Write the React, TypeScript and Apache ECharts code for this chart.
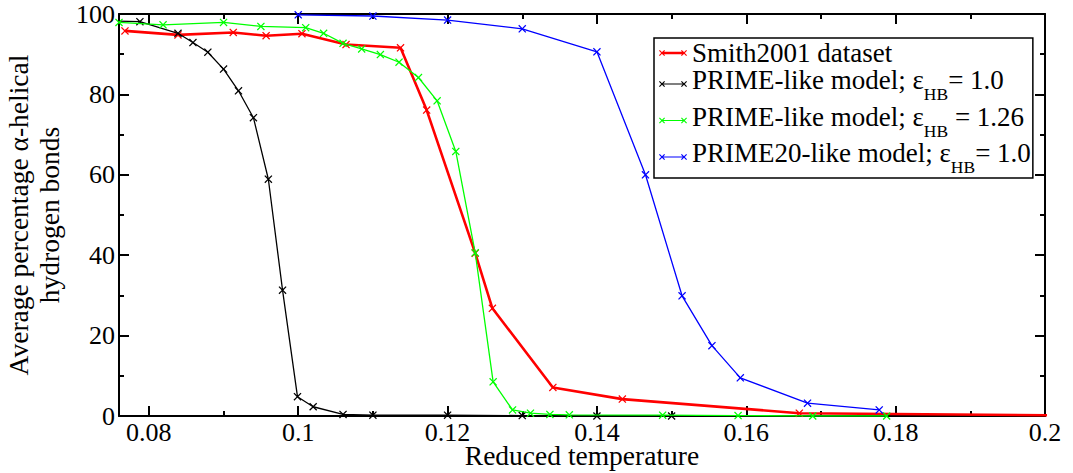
import React, { useEffect, useRef } from "react";
import * as echarts from "echarts";

// ---- data ----
const xMajorTicks = [0.08, 0.1, 0.12, 0.14, 0.16, 0.18, 0.2];
const xMinorTicks = [0.09, 0.11, 0.13, 0.15, 0.17, 0.19];

const seriesNames = [
  "Smith2001 dataset",
  "PRIME-like model; εHB= 1.0",
  "PRIME-like model; εHB = 1.26",
  "PRIME20-like model; εHB= 1.0",
];

const smithT = [0.0768, 0.0839, 0.0913, 0.0957, 0.1005, 0.1064, 0.1137, 0.1172, 0.1237, 0.126, 0.1341, 0.1434, 0.1671, 0.21];
const smithH = [95.8, 94.8, 95.4, 94.6, 95.1, 92.4, 91.6, 76.1, 40.5, 26.8, 7.1, 4.2, 0.7, 0.05];

const primeT = [0.074, 0.0788, 0.0839, 0.0859, 0.0879, 0.09, 0.092, 0.094, 0.096, 0.0979, 0.0999, 0.102, 0.106, 0.11, 0.12, 0.13, 0.14, 0.15];
const primeH = [98.3, 98.1, 95.2, 92.9, 90.5, 86.3, 80.9, 74.2, 58.9, 31.3, 4.8, 2.3, 0.4, 0.2, 0.2, 0.1, 0, 0];

const prime126T = [0.076, 0.0819, 0.09, 0.095, 0.101, 0.1034, 0.106, 0.1085, 0.111, 0.1135, 0.1161, 0.1186, 0.1211, 0.1237, 0.1261, 0.1287, 0.1311, 0.1337, 0.1363, 0.1488, 0.1589, 0.1689, 0.1788];
const prime126H = [97.9, 97.3, 97.9, 96.9, 96.6, 95.2, 92.7, 91.3, 89.9, 88.0, 84.2, 78.4, 65.8, 40.6, 8.5, 1.5, 0.7, 0.4, 0.3, 0.2, 0.1, 0, 0];

const prime20T = [0.1, 0.11, 0.12, 0.13, 0.14, 0.1465, 0.1514, 0.1554, 0.1592, 0.1682, 0.1778];
const prime20H = [99.8, 99.5, 98.5, 96.3, 90.6, 60.0, 29.9, 17.5, 9.5, 3.2, 1.5];

const seriesColors = ["#ff0000", "#000000", "#00ff00", "#0000ff"];
const seriesWidths = [2.6, 1.3, 1.3, 1.3];

const FONT = "'Liberation Serif', 'Times New Roman', serif";

// ---- helpers for marker shapes ----
function xPoly(cx: number, cy: number, h: number, a: number): string {
  const p = [
    [cx - h, cy - h + a], [cx - h + a, cy - h], [cx, cy - a], [cx + h - a, cy - h],
    [cx + h, cy - h + a], [cx + a, cy], [cx + h, cy + h - a], [cx + h - a, cy + h],
    [cx, cy + a], [cx - h + a, cy + h], [cx - h, cy + h - a], [cx - a, cy],
  ];
  return "M" + p.map((q) => q[0].toFixed(2) + " " + q[1].toFixed(2)).join("L") + "Z";
}
const markerPath = "path://" + xPoly(5, 5, 5, 1.1);
function legendIcon(bw: number): string {
  const bar = `M3 ${(5 - bw / 2).toFixed(2)}H25V${(5 + bw / 2).toFixed(2)}H3Z`;
  return "path://" + bar + xPoly(3, 5, 3, 0.8) + xPoly(25, 5, 3, 0.8);
}

const legendRich: Record<string, string> = {
  [seriesNames[0]]: "{m1|Smith2001 dataset}",
  [seriesNames[1]]: "{m2|PRIME-like model; ε}{s|HB}{m2|= 1.0}",
  [seriesNames[2]]: "{m2|PRIME-like model; ε}{s|HB}{m2| = 1.26}",
  [seriesNames[3]]: "{m2|PRIME20-like model; ε}{s|HB}{m2|= 1.0}",
};

function zip(t: number[], h: number[]) {
  return t.map((v, i) => [v, h[i]]);
}

const axisLine = { show: true, lineStyle: { color: "#000", width: 2 } };

export default function App() {
  const ref = useRef<HTMLDivElement>(null);
  useEffect(() => {
    if (!ref.current) return;
    const chart = echarts.init(ref.current, undefined, { renderer: "svg" });
    const datasets = [zip(smithT, smithH), zip(primeT, primeH), zip(prime126T, prime126H), zip(prime20T, prime20H)];
    const option: any = {
      animation: false,
      backgroundColor: "#fff",
      grid: { left: 119, right: 28, top: 14, bottom: 57, containLabel: false, outerBoundsMode: "none" },
      xAxis: [
        {
          type: "value", min: 0.076, max: 0.2, position: "bottom",
          axisLine,
          axisTick: { show: true, inside: true, length: 10, customValues: xMajorTicks, lineStyle: { color: "#000", width: 2 } },
          axisLabel: { show: true, customValues: xMajorTicks, fontSize: 26, lineHeight: 20, fontFamily: FONT, color: "#000", margin: 6 },
          splitLine: { show: false },
          name: "Reduced temperature", nameLocation: "middle", nameGap: 28, nameMoveOverlap: false,
          nameTextStyle: { fontSize: 27.5, lineHeight: 22, fontFamily: FONT, color: "#000" },
        },
        {
          type: "value", min: 0.076, max: 0.2, position: "bottom",
          axisLine: { show: false },
          axisTick: { show: true, inside: true, length: 5, customValues: xMinorTicks, lineStyle: { color: "#000", width: 2 } },
          axisLabel: { show: false }, splitLine: { show: false },
        },
        {
          type: "value", min: 0.076, max: 0.2, position: "top",
          axisLine,
          axisTick: { show: true, inside: true, length: 10, customValues: xMajorTicks, lineStyle: { color: "#000", width: 2 } },
          axisLabel: { show: false }, splitLine: { show: false },
        },
        {
          type: "value", min: 0.076, max: 0.2, position: "top",
          axisLine: { show: false },
          axisTick: { show: true, inside: true, length: 5, customValues: xMinorTicks, lineStyle: { color: "#000", width: 2 } },
          axisLabel: { show: false }, splitLine: { show: false },
        },
      ],
      yAxis: [
        {
          type: "value", min: 0, max: 100, interval: 20, position: "left",
          axisLine,
          axisTick: { show: true, inside: true, length: 10, lineStyle: { color: "#000", width: 2 } },
          minorTick: { show: true, splitNumber: 2, length: 5, lineStyle: { color: "#000", width: 2 } },
          axisLabel: { fontSize: 26, fontFamily: FONT, color: "#000", margin: 4 },
          splitLine: { show: false }, minorSplitLine: { show: false },
          name: "Average percentage α-helical\nhydrogen bonds", nameLocation: "middle", nameGap: 53, nameRotate: 90,
          nameTextStyle: { fontSize: 27.5, fontFamily: FONT, color: "#000", lineHeight: 31 },
        },
        {
          type: "value", min: 0, max: 100, interval: 20, position: "right",
          axisLine,
          axisTick: { show: true, inside: true, length: 10, lineStyle: { color: "#000", width: 2 } },
          minorTick: { show: true, splitNumber: 2, length: 5, lineStyle: { color: "#000", width: 2 } },
          axisLabel: { show: false },
          splitLine: { show: false }, minorSplitLine: { show: false },
        },
      ],
      legend: {
        orient: "vertical", left: 654, top: 38,
        itemWidth: 28, itemHeight: 6, itemGap: 0,
        padding: [1.5, 2, 2, 5],
        borderColor: "#000", borderWidth: 1.5, backgroundColor: "#fff",
        selectedMode: false,
        data: seriesNames.map((n, i) => ({ name: n, icon: legendIcon(i === 0 ? 2.4 : 1.2), itemStyle: { color: seriesColors[i], borderWidth: 0 } })),
        formatter: (name: string) => legendRich[name] || name,
        textStyle: {
          fontFamily: FONT, fontSize: 27, color: "#000",
          rich: {
            m1: { fontFamily: FONT, fontSize: 27, color: "#000", lineHeight: 25 },
            m2: { fontFamily: FONT, fontSize: 27, color: "#000", lineHeight: 34, height: 26, verticalAlign: "top" },
            s: { fontFamily: FONT, fontSize: 17.5, color: "#000", lineHeight: 34, height: 14, verticalAlign: "bottom" },
          },
        },
      },
      series: seriesNames.map((n, i) => ({
        name: n, type: "line", xAxisIndex: 0, yAxisIndex: 0,
        data: datasets[i],
        symbol: markerPath, symbolSize: 8, showSymbol: true,
        itemStyle: { color: seriesColors[i], borderWidth: 0 },
        lineStyle: { color: seriesColors[i], width: seriesWidths[i] },
        emphasis: { disabled: true }, silent: true, z: 2 + i,
      })),
    };
    chart.setOption(option);
    return () => chart.dispose();
  }, []);
  return <div ref={ref} style={{ position: "absolute", left: 0, top: 0, width: 1073, height: 473 }} />;
}
